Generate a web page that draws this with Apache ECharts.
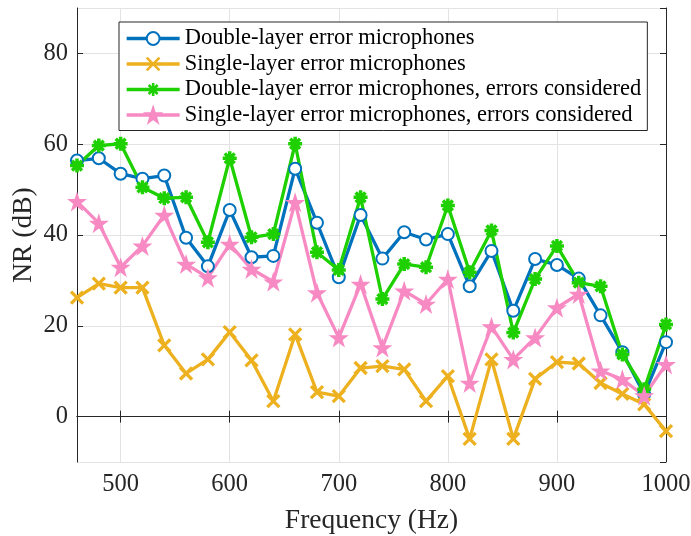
<!DOCTYPE html>
<html>
<head>
<meta charset="utf-8">
<script src="https://cdn.jsdelivr.net/npm/echarts@6/dist/echarts.min.js"></script>
<style>
html,body{margin:0;padding:0;background:#fff;}
#c{width:691px;height:536px;}
</style>
</head>
<body>
<div id="c"></div>
<script>
var freqs = [460,480,500,520,540,560,580,600,620,640,660,680,700,720,740,760,780,800,820,840,860,880,900,920,940,960,980,1000];
var doubleLayer = [56.4,56.9,53.5,52.4,53.1,39.4,33.1,45.5,35.1,35.4,54.6,42.7,30.7,44.4,34.8,40.6,39.0,40.2,28.7,36.5,23.3,34.7,33.4,30.4,22.3,14.2,4.9,16.4];
var singleLayer = [26.2,29.3,28.4,28.4,15.7,9.5,12.6,18.6,12.4,3.4,18.1,5.4,4.5,10.7,11.1,10.4,3.4,8.9,-4.9,12.6,-4.9,8.3,12.0,11.7,7.4,5.0,2.7,-3.2];
var doubleLayerErr = [55.3,59.7,60.1,50.5,48.1,48.3,38.4,56.9,39.5,40.2,60.1,36.2,32.3,48.3,25.9,33.6,32.9,46.5,31.8,41.0,18.5,30.3,37.6,29.5,28.7,13.7,6.0,20.3];
var singleLayerErr = [47.4,42.6,32.9,37.6,44.4,33.6,30.6,38.0,32.5,29.7,47.2,27.3,17.4,29.2,15.2,27.7,24.8,30.3,7.4,19.8,12.6,17.4,24.0,27.0,10.1,8.2,4.6,11.5];
var seriesNames = [
  'Double-layer error microphones',
  'Single-layer error microphones',
  'Double-layer error microphones, errors considered',
  'Single-layer error microphones, errors considered'
];

function pairs(vals){ return freqs.map(function(f,i){ return [f, vals[i]]; }); }

var FONT = '"Liberation Serif","Times New Roman",serif';
var AX = '#262626';
var GRIDC = '#e3e3e3';

var crossSym = 'path://M0,0L10,10M10,0L0,10';
var asterSym = 'path://M5,0L5,10M0,5L10,5M1.5,1.5L8.5,8.5M8.5,1.5L1.5,8.5';
var starSym = 'path://M50,0L61.8,35.1L98.9,35.1L68.9,56.8L80.3,91.9L50,70.2L19.7,91.9L31.1,56.8L1.1,35.1L38.2,35.1Z';

function mk(name, vals, color, symbol, size, bw){
  return {
    name: name, type: 'line', data: pairs(vals),
    symbol: symbol, symbolSize: size, showAllSymbol: true,
    lineStyle: {color: color, width: 3.3},
    itemStyle: {color: color, borderColor: color, borderWidth: bw},
    emphasis: {disabled: true},
    animation: false
  };
}

var chart = echarts.init(document.getElementById('c'), null, {renderer: 'canvas'});
chart.setOption({
  backgroundColor: '#fff',
  animation: false,
  grid: {left: 77, right: 25, top: 8, bottom: 74, containLabel: false, outerBoundsMode: 'none'},
  legend: {
    left: 119, top: 22, orient: 'vertical',
    backgroundColor: '#fff', borderColor: AX, borderWidth: 1,
    padding: [5, 6, 4, 6], itemGap: 2.5, itemWidth: 53, itemHeight: 16,
    lineStyle: {width: 3.3},
    itemStyle: {borderWidth: 2.6},
    textStyle: {fontFamily: FONT, fontSize: 22.5, color: '#000'},
    data: seriesNames
  },
  xAxis: [{
    type: 'value', min: 460, max: 1000, splitNumber: 5,
    name: 'Frequency (Hz)', nameLocation: 'middle', nameGap: 45, nameMoveOverlap: false,
    nameTextStyle: {fontFamily: FONT, fontSize: 27.5, color: '#262626'},
    axisLine: {show: true, lineStyle: {color: AX, width: 1}},
    axisTick: {show: true, inside: true, length: 6, lineStyle: {color: AX}},
    axisLabel: {fontFamily: FONT, fontSize: 24.5, color: '#262626', margin: 10, showMinLabel: false,
      formatter: function(v){ return String(v); }},
    splitLine: {show: true, lineStyle: {color: GRIDC, width: 1}}
  },{
    type: 'value', min: 460, max: 1000, splitNumber: 5, position: 'top',
    axisLine: {show: true, lineStyle: {color: AX, width: 1}},
    axisTick: {show: true, inside: true, length: 6, lineStyle: {color: AX}},
    axisLabel: {show: false}, splitLine: {show: false}
  }],
  yAxis: [{
    type: 'value', min: -10, max: 90, splitNumber: 5,
    name: 'NR (dB)', nameLocation: 'middle', nameGap: 39, nameMoveOverlap: false,
    nameTextStyle: {fontFamily: FONT, fontSize: 27.5, color: '#262626'},
    axisLine: {show: true, lineStyle: {color: AX, width: 1}},
    axisTick: {show: true, inside: true, length: 6, lineStyle: {color: AX}},
    axisLabel: {fontFamily: FONT, fontSize: 24.5, color: '#262626', margin: 9, showMinLabel: false, showMaxLabel: false},
    splitLine: {show: true, lineStyle: {color: GRIDC, width: 1}}
  },{
    type: 'value', min: -10, max: 90, splitNumber: 5, position: 'right',
    axisLine: {show: true, lineStyle: {color: AX, width: 1}},
    axisTick: {show: true, inside: true, length: 6, lineStyle: {color: AX}},
    axisLabel: {show: false}, splitLine: {show: false}
  }],
  series: [
    mk(seriesNames[0], doubleLayer, '#0072BD', 'emptyCircle', 12, 3),
    mk(seriesNames[1], singleLayer, '#EDB120', crossSym, 12, 3.3),
    mk(seriesNames[2], doubleLayerErr, '#1ED000', asterSym, 14, 3.5),
    mk(seriesNames[3], singleLayerErr, '#F78AC3', starSym, 20, 0)
  ]
});
</script>
</body>
</html>
